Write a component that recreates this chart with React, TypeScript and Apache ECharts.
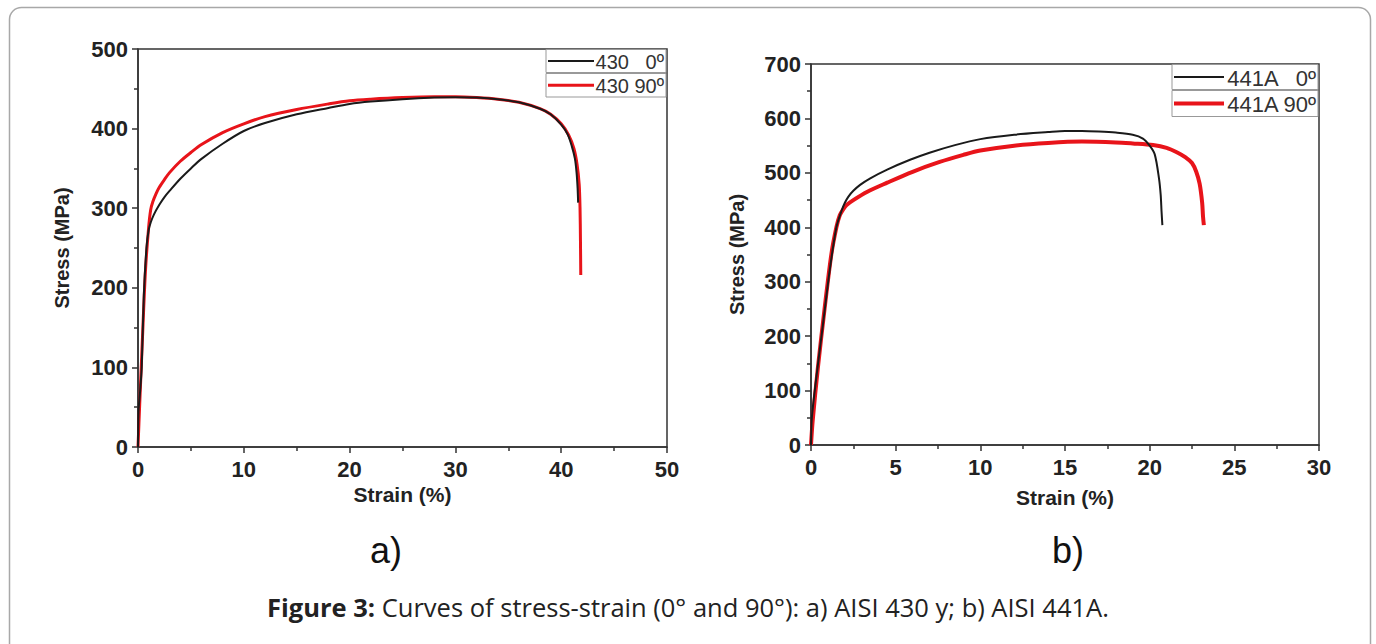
import React, { useEffect, useRef } from "react";
import * as echarts from "echarts";

// ---- data: a) AISI 430 ----
const strain430_0 = [0, 0.05, 0.2, 0.35, 0.55, 0.8, 1.0, 1.2, 1.5, 2.0, 2.5, 3.0, 4.0, 5.0, 6.0, 8.0, 10, 12, 15, 18, 20, 22, 25, 28, 30, 32, 34, 36, 38, 39, 40, 40.6, 41.0, 41.3, 41.45, 41.55, 41.6];
const stress430_0 = [0, 45, 70, 100, 190, 250, 272, 282, 292, 304, 314, 322, 337, 350, 362, 381, 397, 407, 418, 426, 431, 434, 437, 439, 439.5, 439, 437, 433, 425, 418, 405, 393, 378, 362, 345, 325, 307];
const strain430_90 = [0, 0.15, 0.4, 0.7, 1.0, 1.2, 1.4, 1.7, 2.0, 2.5, 3.0, 4.0, 5.0, 6.0, 8.0, 10, 12, 15, 18, 20, 22, 25, 28, 30, 32, 34, 36, 38, 39, 40, 40.7, 41.2, 41.5, 41.7, 41.78, 41.82, 41.85];
const stress430_90 = [0, 50, 130, 220, 275, 298, 308, 318, 326, 336, 345, 359, 370, 380, 395, 406, 415, 424, 431, 435, 437, 439, 440, 440, 439, 437, 433, 425, 418, 406, 392, 375, 355, 330, 300, 260, 216];

// ---- data: b) AISI 441A ----
const strain441_0 = [0, 0.05, 0.3, 0.7, 1.1, 1.5, 1.8, 2.0, 2.2, 2.5, 2.9, 3.5, 4.5, 5.85, 7, 8.5, 10, 12, 14, 15, 16, 17, 18, 19, 19.6, 20.0, 20.3, 20.55, 20.65, 20.7, 20.75];
const stress441_0 = [0, 50, 120, 220, 320, 400, 430, 445, 456, 467, 478, 490, 506, 524, 537, 551, 562, 570, 575, 577, 577, 576, 574, 570, 563, 550, 534, 490, 460, 430, 404];
const strain441_90 = [0, 0.1, 0.4, 0.8, 1.2, 1.5, 1.7, 1.9, 2.1, 2.5, 3.3, 4.5, 6, 7.6, 9, 10, 12, 14, 16, 18, 19, 20.2, 21, 21.6, 22.1, 22.5, 22.75, 22.95, 23.1, 23.15, 23.2];
const stress441_90 = [0, 45, 140, 250, 350, 400, 422, 433, 441, 450, 465, 482, 502, 520, 533, 541, 550, 555, 557.5, 556, 554, 551, 546, 538, 529, 518, 502, 480, 445, 420, 404];

const legendA = ["430   0º", "430 90º"];
const legendB = ["441A   0º", "441A 90º"];
const xTitle = "Strain (%)";
const yTitle = "Stress (MPa)";
const captionBold = "Figure 3:";
const captionText = " Curves of stress-strain (0° and 90°): a) AISI 430 y; b) AISI 441A.";

const BLACK = "#1a1a1a";
const RED = "#e8141a";
const AXIS = "#333";
const FONT = "'Liberation Sans', Arial, sans-serif";

const zip = (xs: number[], ys: number[]) => xs.map((x, i) => [x, ys[i]]);

function axisX(gridIndex: number, max: number, interval: number, nameGap: number) {
  return {
    type: "value",
    gridIndex,
    min: 0,
    max,
    interval,
    name: xTitle,
    nameLocation: "middle",
    nameGap,
    nameMoveOverlap: false,
    nameTextStyle: { fontFamily: FONT, fontWeight: "bold", fontSize: 21, color: "#222" },
    axisLine: { show: true, onZero: false, lineStyle: { color: AXIS, width: 1.5 } },
    axisTick: { show: true, inside: false, length: 6, lineStyle: { color: AXIS, width: 1.5 } },
    minorTick: { show: true, splitNumber: 2, length: 4, lineStyle: { color: AXIS, width: 1.5 } },
    splitLine: { show: false },
    axisLabel: { margin: 11, fontFamily: FONT, fontWeight: "bold", fontSize: 22, color: "#222" },
  };
}

function axisY(gridIndex: number, max: number, interval: number, nameGap: number) {
  return {
    type: "value",
    gridIndex,
    min: 0,
    max,
    interval,
    name: yTitle,
    nameLocation: "middle",
    nameGap,
    nameRotate: 90,
    nameMoveOverlap: false,
    nameTextStyle: { fontFamily: FONT, fontWeight: "bold", fontSize: 20, color: "#222" },
    axisLine: { show: true, onZero: false, lineStyle: { color: AXIS, width: 1.5 } },
    axisTick: { show: true, inside: false, length: 6, lineStyle: { color: AXIS, width: 1.5 } },
    minorTick: { show: true, splitNumber: 2, length: 4, lineStyle: { color: AXIS, width: 1.5 } },
    splitLine: { show: false },
    axisLabel: { margin: 10, fontFamily: FONT, fontWeight: "bold", fontSize: 22, color: "#222" },
  };
}

function lineSeries(name: string, data: number[][], idx: number, color: string, width: number) {
  return {
    type: "line",
    name,
    xAxisIndex: idx,
    yAxisIndex: idx,
    data,
    showSymbol: false,
    smooth: 0.3,
    lineStyle: { color, width },
    z: color === RED ? 3 : 4,
  };
}

function legendBox(x: number, y: number, w: number, h: number, lineLen: number, label: string, color: string, lw: number, fs: number) {
  return {
    type: "group",
    children: [
      { type: "rect", shape: { x, y, width: w, height: h }, style: { fill: "#fff", stroke: "#999", lineWidth: 1 } },
      { type: "line", shape: { x1: x + 2, y1: y + h / 2, x2: x + 2 + lineLen, y2: y + h / 2 }, style: { stroke: color, lineWidth: lw } },
      {
        type: "text",
        style: { x: x + w - 2, y: y + h / 2 + 1, text: label, align: "right", verticalAlign: "middle", font: `${fs}px ${FONT}`, fill: "#333" },
      },
    ],
  };
}

export default function App() {
  const ref = useRef<HTMLDivElement>(null);
  useEffect(() => {
    if (!ref.current) return;
    const chart = echarts.init(ref.current, null, { renderer: "svg" });
    chart.setOption({
      animation: false,
      backgroundColor: "#fff",
      grid: [
        { left: 138, top: 49, width: 529, height: 398, show: true, borderColor: AXIS, borderWidth: 1.5, backgroundColor: "transparent" },
        { left: 811, top: 64, width: 508, height: 381, show: true, borderColor: AXIS, borderWidth: 1.5, backgroundColor: "transparent" },
      ],
      xAxis: [axisX(0, 50, 10, 37), axisX(1, 30, 5, 42)],
      yAxis: [axisY(0, 500, 100, 66), axisY(1, 700, 100, 64)],
      series: [
        lineSeries(legendA[0], zip(strain430_0, stress430_0), 0, BLACK, 2),
        lineSeries(legendA[1], zip(strain430_90, stress430_90), 0, RED, 3),
        lineSeries(legendB[0], zip(strain441_0, stress441_0), 1, BLACK, 2),
        lineSeries(legendB[1], zip(strain441_90, stress441_90), 1, RED, 4),
      ],
      graphic: [
        {
          type: "rect",
          shape: { x: 9.5, y: 7.5, width: 1361, height: 680, r: 12 },
          style: { fill: "none", stroke: "#a8a8a8", lineWidth: 1.5 },
          z: 0,
        },
        legendBox(546, 49.5, 120, 23, 46, legendA[0], BLACK, 2, 20),
        legendBox(546, 73.5, 120, 23.5, 46, legendA[1], RED, 3, 20),
        legendBox(1172, 64.5, 146, 25, 50, legendB[0], BLACK, 2, 22),
        legendBox(1172, 90.5, 146, 26, 50, legendB[1], RED, 4, 22),
        { type: "text", style: { x: 386, y: 550, text: "a)", align: "center", verticalAlign: "middle", font: `36px ${FONT}`, fill: "#111" } },
        { type: "text", style: { x: 1068, y: 550, text: "b)", align: "center", verticalAlign: "middle", font: `36px ${FONT}`, fill: "#111" } },
        {
          type: "text",
          style: {
            x: 688,
            y: 607,
            text: `{b|${captionBold}}{n|${captionText}}`,
            align: "center",
            verticalAlign: "middle",
            rich: {
              b: { fontFamily: "'Open Sans', sans-serif", fontSize: 25.5, fontWeight: "bold", fill: "#222" },
              n: { fontFamily: "'Open Sans', sans-serif", fontSize: 25.5, fill: "#222" },
            },
          },
        },
      ],
    });
    return () => chart.dispose();
  }, []);
  return <div ref={ref} style={{ position: "absolute", left: 0, top: 0, width: 1376, height: 644 }} />;
}
